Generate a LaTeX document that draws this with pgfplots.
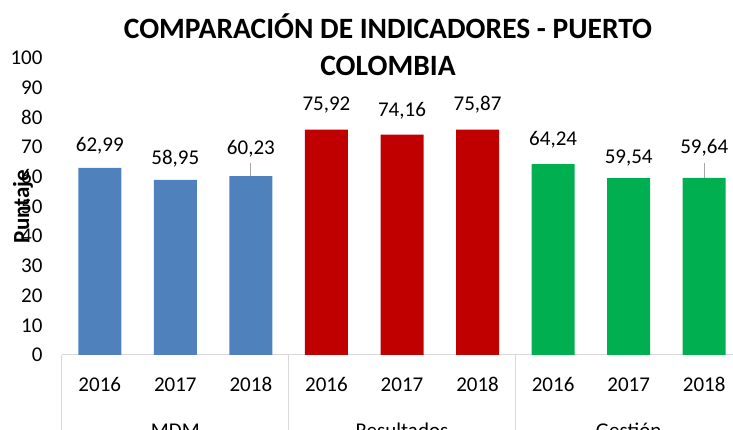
\documentclass[border=0pt]{standalone}
\usepackage{pgfplots}
\pgfplotsset{compat=1.18}
\usepackage{pgfplotstable}
\usepackage{fontspec}
\setmainfont{Carlito}
\definecolor{cblue}{HTML}{4F81BD}
\definecolor{cred}{HTML}{C00000}
\definecolor{cgreen}{HTML}{00B050}
\definecolor{axgray}{HTML}{D9D9D9}
\pgfplotstableread{
x y lab off
0 62.99 62,99 16
1 58.95 58,95 15
2 60.23 60,23 22
}\mdm
\pgfplotstableread{
x y lab off
3 75.92 75,92 19
4 74.16 74,16 18
5 75.87 75,87 19
}\res
\pgfplotstableread{
x y lab off
6 64.24 64,24 19
7 59.54 59,54 15
8 59.64 59,64 24
}\ges
\begin{document}
\begin{tikzpicture}
\begin{axis}[
  at={(0,0)}, anchor=south west,
  scale only axis, width=680pt, height=297pt,
  xmin=-0.5, xmax=8.5, ymin=0, ymax=100,
  ytick={0,10,...,100},
  xtick={0,...,8},
  xticklabels={2016,2017,2018,2016,2017,2018,2016,2017,2018},
  axis x line*=bottom, axis y line*=left,
  x axis line style={draw=axgray, line width=1pt},
  y axis line style={draw=none},
  major tick length=0pt,
  extra x ticks={-0.5,2.5,5.5,8.5},
  extra x tick labels={},
  extra x tick style={major tick length=100pt, tick align=outside, tick style={draw=axgray, line width=1pt}},
  ticklabel style={font=\fontsize{21}{25}\selectfont},
  /pgf/number format/assume math mode=true,
  yticklabel style={anchor=east, xshift=-16pt},
  xticklabel style={anchor=base, yshift=-37pt},
  ylabel={Puntaje},
  ylabel style={at={(axis description cs:-0.0574,0.5)}, anchor=center, font=\fontsize{23}{27}\selectfont\bfseries},
  clip=false,
  nodes near coords,
  point meta=explicit symbolic,
  visualization depends on={\thisrow{off} \as \off},
  every node near coord/.append style={anchor=base, yshift=\off pt, font=\fontsize{21}{25}\selectfont, black},
]
\addplot[ybar, bar width=43pt, bar shift=0pt, fill=cblue, draw=none] table[x=x, y=y, meta=lab] {\mdm};
\addplot[ybar, bar width=43pt, bar shift=0pt, fill=cred, draw=none] table[x=x, y=y, meta=lab] {\res};
\addplot[ybar, bar width=43pt, bar shift=0pt, fill=cgreen, draw=none] table[x=x, y=y, meta=lab] {\ges};
\draw[gray!70, line width=1pt] (axis cs:2,60.23) -- ++(0pt,13pt);
\draw[gray!70, line width=1pt] (axis cs:8,59.64) -- ++(0pt,15pt);
\node[anchor=base, font=\fontsize{21}{25}\selectfont] at ([yshift=-82pt]axis cs:1,0) {MDM};
\node[anchor=base, font=\fontsize{21}{25}\selectfont] at ([yshift=-82pt]axis cs:4,0) {Resultados};
\node[anchor=base, font=\fontsize{21}{25}\selectfont] at ([yshift=-82pt]axis cs:7,0) {Gestión};
\end{axis}
\node[align=center, font=\fontsize{29.5}{37}\selectfont\bfseries] at (326pt,310pt) {COMPARACIÓN DE INDICADORES - PUERTO\\COLOMBIA};
\pgfresetboundingbox
\path (-62pt,-75pt) rectangle (671pt,355pt);
\end{tikzpicture}
\end{document}
